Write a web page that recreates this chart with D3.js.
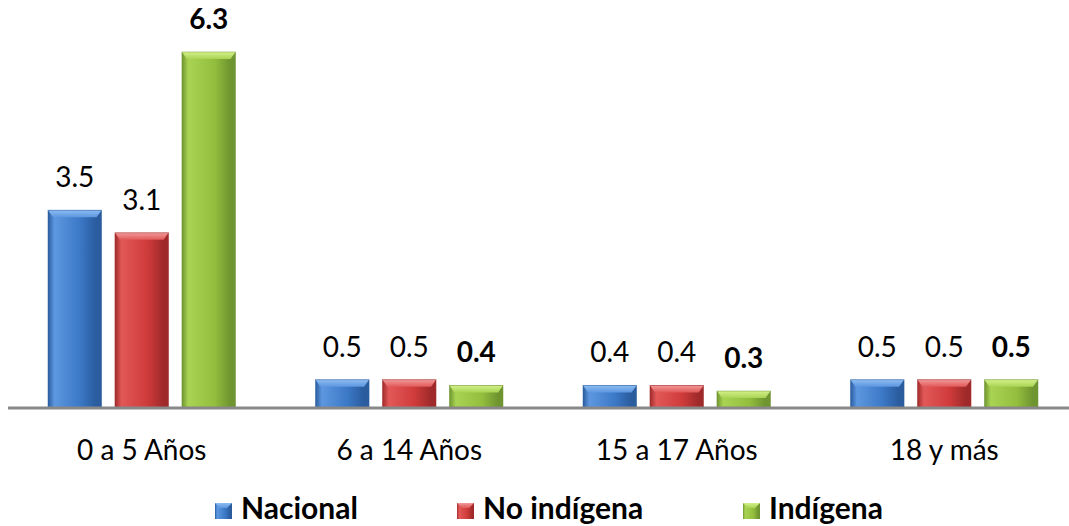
<!DOCTYPE html>
<html><head><meta charset="utf-8">
<script src="https://cdn.jsdelivr.net/npm/d3@7"></script>
<style>body{margin:0;background:#fff}svg{display:block}</style>
</head><body>
<svg id="c" width="1069" height="526"></svg>
<script>
const categories = ["0 a 5 Años", "6 a 14 Años", "15 a 17 Años", "18 y más"];
const seriesNames = ["Nacional", "No indígena", "Indígena"];
const nacional = [3.5, 0.5, 0.4, 0.5];
const noIndigena = [3.1, 0.5, 0.4, 0.5];
const indigena = [6.3, 0.4, 0.3, 0.5];
const seriesValues = [nacional, noIndigena, indigena];
const colors = [
  {base:"#3b78c6", light:"#5d97e0", dark:"#2a5c9e", top:"#8dbcf2"},
  {base:"#cf3b3b", light:"#e25858", dark:"#a02a2a", top:"#f09a9a"},
  {base:"#94bf3e", light:"#a9d453", dark:"#6f9530", top:"#d3f08a"}
];
const FONT = "Lato, 'Open Sans', sans-serif";

const svg = d3.select("#c");
const defs = svg.append("defs");
colors.forEach((c,i)=>{
  const g = defs.append("linearGradient").attr("id","g"+i).attr("x1","0").attr("x2","1").attr("y1","0").attr("y2","0");
  g.append("stop").attr("offset","0").attr("stop-color",c.dark);
  g.append("stop").attr("offset","0.12").attr("stop-color",c.light);
  g.append("stop").attr("offset","0.6").attr("stop-color",c.base);
  g.append("stop").attr("offset","0.9").attr("stop-color",c.dark);
  g.append("stop").attr("offset","1").attr("stop-color",c.dark);
  const t = defs.append("linearGradient").attr("id","t"+i).attr("x1","0").attr("x2","0").attr("y1","0").attr("y2","1");
  t.append("stop").attr("offset","0").attr("stop-color",c.top);
  t.append("stop").attr("offset","1").attr("stop-color",c.light);
});

const baseY = 408;
const x0 = d3.scaleBand().domain(categories).range([8, 1078]).paddingInner(0).paddingOuter(0);
const x1 = d3.scaleBand().domain(seriesNames).range([40, x0.bandwidth()-40]).paddingInner(0.2).paddingOuter(0);
const y = d3.scaleLinear().domain([0, 6.3]).range([baseY, baseY - 356]);

const bw = x1.bandwidth();
categories.forEach((cat, ci)=>{
  seriesNames.forEach((s, si)=>{
    const v = seriesValues[si][ci];
    const bx = x0(cat) + x1(s);
    const by = y(v);
    const h = baseY - by;
    const g = svg.append("g");
    g.append("rect").attr("x",bx).attr("y",by).attr("width",bw).attr("height",h).attr("fill","url(#g"+si+")");
    const bev = Math.min(7, h/2);
    g.append("path").attr("d",`M${bx},${by}L${bx+bw},${by}L${bx+bw-5},${by+bev}L${bx+5},${by+bev}Z`).attr("fill","url(#t"+si+")");
    g.append("rect").attr("x",bx).attr("y",by).attr("width",bw).attr("height",h).attr("fill","none").attr("stroke",colors[si].dark).attr("stroke-width",0.8).attr("stroke-opacity",0.6);
    svg.append("text").attr("x",bx+bw/2).attr("y",by-23)
      .attr("text-anchor","middle").attr("font-family",FONT)
      .attr("font-size",28).attr("font-weight", si===2?"bold":"normal").attr("fill","#000")
      .text(v.toFixed(1));
  });
});

// axis
const xAxis = d3.axisBottom(x0).tickSize(0);
const ax = svg.append("g").attr("transform",`translate(0,${baseY})`).call(xAxis);
ax.select(".domain").attr("d","M8,0H1069").attr("stroke","#888").attr("stroke-width",3);
ax.selectAll("text").attr("font-family",FONT).attr("font-size",28).attr("fill","#000").attr("dy",null).attr("y",52);

// legend
const legendX = [215, 457, 743];
seriesNames.forEach((s,i)=>{
  const lx = legendX[i], ly = 503, sz = 17;
  svg.append("rect").attr("x",lx).attr("y",ly).attr("width",sz).attr("height",sz-1).attr("fill","url(#g"+i+")");
  svg.append("path").attr("d",`M${lx},${ly}L${lx+sz},${ly}L${lx+sz-5},${ly+5}L${lx+5},${ly+5}Z`).attr("fill","url(#t"+i+")");
  svg.append("text").attr("x",lx+sz+9).attr("y",519)
    .attr("font-family",FONT).attr("font-size",30).attr("font-weight","bold").attr("fill","#000")
    .text(s);
});
</script>
</body></html>
